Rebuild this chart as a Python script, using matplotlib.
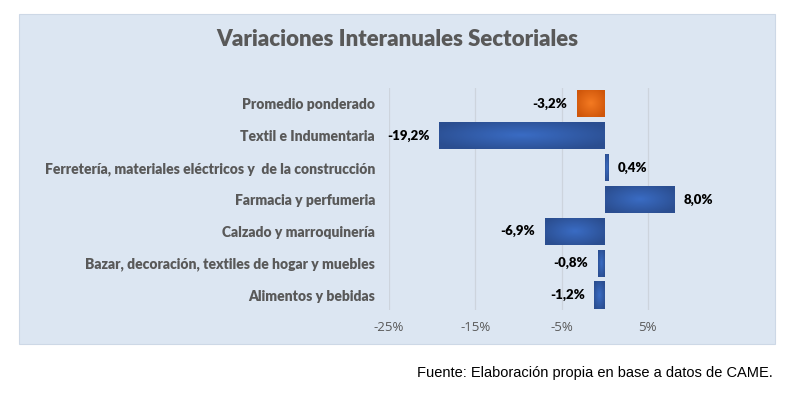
import numpy as np
import matplotlib.pyplot as plt
from matplotlib.colors import LinearSegmentedColormap
from matplotlib.patches import Rectangle

categories = [
    "Promedio ponderado",
    "Textil e Indumentaria",
    "Ferretería, materiales eléctricos y  de la construcción",
    "Farmacia y perfumeria",
    "Calzado y marroquinería",
    "Bazar, decoración, textiles de hogar y muebles",
    "Alimentos y bebidas",
]
values = [-3.2, -19.2, 0.4, 8.0, -6.9, -0.8, -1.2]
highlight = [True, False, False, False, False, False, False]
xticks = [-25, -15, -5, 5]

BLUE = ("#2b4e90", "#3a6cc4")
ORANGE = ("#cf560a", "#f47a22")
GRAY = "#595959"


def fill_gradient(ax, bar, colors):
    cmap = LinearSegmentedColormap.from_list("g", list(colors))
    x0, y0 = bar.get_x(), bar.get_y()
    w, h = bar.get_width(), bar.get_height()
    u = np.linspace(-1, 1, 60)
    uu, vv = np.meshgrid(u, u)
    z = 1 - np.clip(np.sqrt(uu ** 2 + vv ** 2) / 1.2, 0, 1)
    im = ax.imshow(z, cmap=cmap, vmin=0, vmax=1, aspect="auto",
                   extent=(min(x0, x0 + w), max(x0, x0 + w), y0 + h, y0),
                   interpolation="bilinear", zorder=3)
    im.set_clip_path(bar)


fig = plt.figure(figsize=(8, 3.97), dpi=100)
fig.patch.set_facecolor("white")
fig.add_artist(Rectangle((19 / 800, 1 - 344 / 397), 756 / 800, 330 / 397,
                         transform=fig.transFigure, facecolor="#dce6f2",
                         edgecolor="#cdd8e6", linewidth=0.8, zorder=-1))

ax = fig.add_axes([389 / 800, 1 - 310 / 397, 302 / 800, 222 / 397])
ax.set_facecolor("none")
ax.set_zorder(2)

y = np.arange(len(categories))
bars = ax.barh(y, values, height=0.85, color="none", zorder=3)
for bar, hl in zip(bars, highlight):
    fill_gradient(ax, bar, ORANGE if hl else BLUE)

ax.set_xlim(-25, 10)
ax.set_ylim(len(categories) - 0.53, -0.5)
ax.set_xticks(xticks)
ax.set_xticklabels([f"{t}%" for t in xticks], color=GRAY, fontsize=9.5,
                   family="Open Sans")
ax.set_yticks(y)
ax.set_yticklabels(categories, color=GRAY, fontsize=10, fontweight="heavy",
                   family="Lato")
ax.tick_params(length=0)
ax.tick_params(axis="x", pad=8)
ax.tick_params(axis="y", pad=10)
ax.grid(axis="x", color="#cdd4dd", linewidth=0.9, zorder=1)
for spine in ax.spines.values():
    spine.set_visible(False)

for yi, v in zip(y, values):
    label = f"{v:.1f}%".replace(".", ",")
    off = 7 if v >= 0 else -7
    ax.annotate(label, (v, yi), xytext=(off, 0), textcoords="offset points",
                ha="left" if v >= 0 else "right", va="center",
                fontsize=9.5, fontweight="heavy", color="black", family="Lato")

fig.text(397 / 800, 1 - 40 / 397, "Variaciones Interanuales Sectoriales",
         ha="center", va="center", fontsize=16, fontweight="heavy",
         color=GRAY, family="Lato")
fig.text(773 / 800, 1 - 373 / 397, "Fuente: Elaboración propia en base a datos de CAME.",
         ha="right", va="center", fontsize=10.5, color="black",
         family="Liberation Sans")

fig.savefig("out.png", dpi=100)
